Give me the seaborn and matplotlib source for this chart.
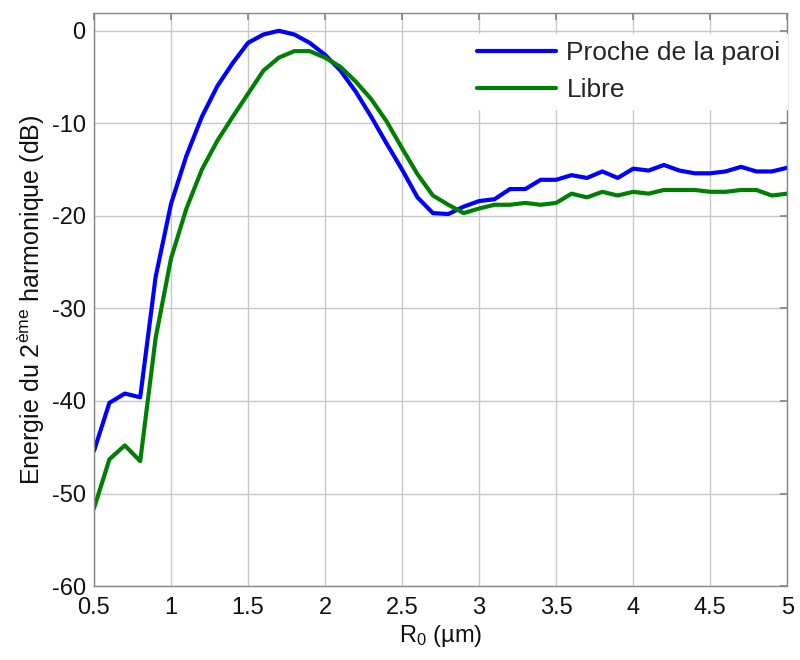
import numpy as np
import pandas as pd
import matplotlib
matplotlib.use("Agg")
import matplotlib.pyplot as plt
import seaborn as sns

r0 = [round(0.5 + 0.1 * i, 1) for i in range(46)]
proche = [-45.4, -40.2, -39.2, -39.6, -26.6, -18.7, -13.5, -9.3, -6.0, -3.5,
          -1.3, -0.4, 0.0, -0.4, -1.3, -2.6, -4.3, -6.6, -9.3, -12.2,
          -15.0, -18.0, -19.7, -19.8, -19.0, -18.4, -18.2, -17.1, -17.1, -16.1,
          -16.1, -15.6, -15.9, -15.2, -15.9, -14.9, -15.1, -14.5, -15.1, -15.4,
          -15.4, -15.2, -14.7, -15.2, -15.2, -14.8]
libre = [-51.6, -46.3, -44.8, -46.5, -33.2, -24.6, -19.2, -15.0, -11.9, -9.3,
         -6.8, -4.3, -2.9, -2.2, -2.2, -2.9, -3.9, -5.5, -7.4, -9.8,
         -12.7, -15.5, -17.8, -18.8, -19.7, -19.2, -18.8, -18.8, -18.6, -18.8,
         -18.6, -17.6, -18.0, -17.4, -17.8, -17.4, -17.6, -17.2, -17.2, -17.2,
         -17.4, -17.4, -17.2, -17.2, -17.8, -17.6]
series_names = ["Proche de la paroi", "Libre"]
x_ticks = [0.5, 1, 1.5, 2, 2.5, 3, 3.5, 4, 4.5, 5]
x_tick_labels = ["0.5", "1", "1.5", "2", "2.5", "3", "3.5", "4", "4.5", "5"]
y_ticks = [0, -10, -20, -30, -40, -50, -60]

df = pd.DataFrame({
    "R0": r0 * 2,
    "val": proche + libre,
    "serie": [series_names[0]] * len(r0) + [series_names[1]] * len(r0),
})

sns.set_theme(style="white")
plt.rcParams["font.family"] = ["Liberation Sans", "DejaVu Sans"]
plt.rcParams["mathtext.fontset"] = "custom"
plt.rcParams["mathtext.rm"] = "Liberation Sans"
plt.rcParams["mathtext.it"] = "Liberation Sans:italic"
plt.rcParams["mathtext.bf"] = "Liberation Sans:bold"
plt.rcParams["axes.unicode_minus"] = False

fig = plt.figure(figsize=(8, 6.6), dpi=100)
ax = fig.add_axes([0.1175, 0.112, 0.8665, 0.868])

sns.lineplot(data=df, x="R0", y="val", hue="serie",
             palette={series_names[0]: "#0000ff", series_names[1]: "#008000"},
             linewidth=3, ax=ax)

ax.set_xlim(0.5, 5)
ax.set_ylim(-60, 1.9)
ax.set_xticks(x_ticks)
ax.set_xticklabels(x_tick_labels)
ax.set_yticks(y_ticks)
ax.grid(True, color="#c8c8c8", linewidth=1.0, linestyle="-")
ax.set_axisbelow(True)
for s in ax.spines.values():
    s.set_color("#888888")
    s.set_linewidth(1.0)
ax.tick_params(axis="both", which="both", direction="in", length=5,
               color="#888888", labelsize=17, top=True, right=True,
               labelcolor="#111111")
ax.tick_params(axis="x", pad=8)
ax.tick_params(axis="y", pad=6)
ax.set_xlabel("R$_0$ (µm)", fontsize=17, labelpad=3, color="#111111")
ax.set_ylabel("Energie du 2$^{\\mathrm{ème}}$ harmonique (dB)", fontsize=18,
              labelpad=3, color="#111111")

leg = ax.legend(loc="upper right", fontsize=19, frameon=True, handlelength=3.0,
                borderaxespad=0.0, labelspacing=0.5, handletextpad=0.4,
                borderpad=0.25, bbox_to_anchor=(1.0, 0.963))
leg.get_frame().set_edgecolor("white")
leg.get_frame().set_facecolor("white")
leg.get_frame().set_alpha(1.0)
leg.get_frame().set_boxstyle("square", pad=0.0)
for h in leg.get_lines():
    h.set_linewidth(3)

fig.savefig("out.png", dpi=100)
